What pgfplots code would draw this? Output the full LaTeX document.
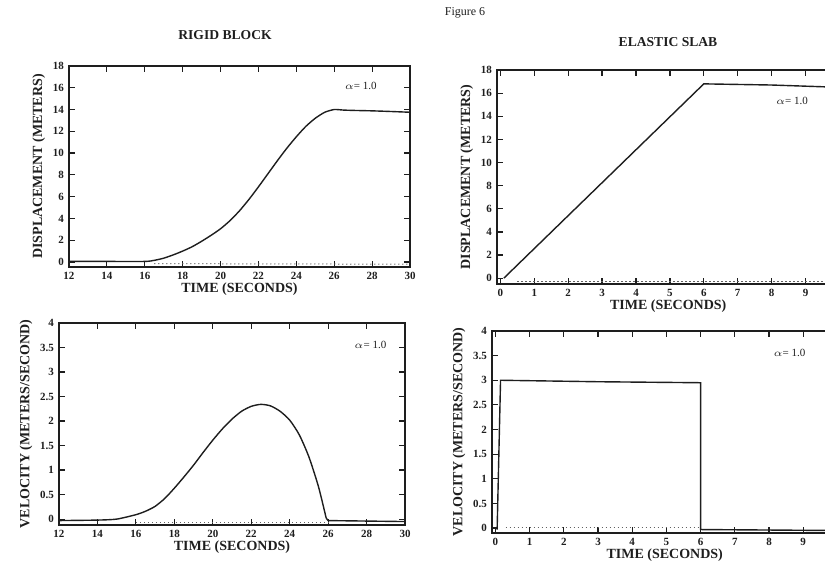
\documentclass[border=0pt]{standalone}
\usepackage{fontspec}
\setmainfont{Liberation Serif}
\usepackage{pgfplots}
\pgfplotsset{compat=1.18}
\definecolor{ink}{RGB}{30,30,30}
\pgfplotsset{
  panel/.style={
    scale only axis,
    axis line style={ink, line width=0.8pt},
    tick style={ink, line width=0.6pt},
    major tick length=3pt,
    tick align=inside,
    minor tick num=0,
    ticklabel style={font=\fontsize{5.5}{6}\selectfont\bfseries, text=ink},
    label style={font=\fontsize{7}{8}\selectfont\bfseries, text=ink},
    /pgf/number format/assume math mode=true,
    xticklabel style={yshift=1pt},
    yticklabel style={xshift=1pt},
    xlabel style={yshift=5pt},
    ylabel style={yshift=-3pt},
  },
  curve/.style={ink, line width=0.7pt, no marks, smooth, tension=0.4},
  dots/.style={ink!70, line width=0.5pt, dash pattern=on 0.6pt off 1.4pt, no marks},
}
\begin{document}
\begin{tikzpicture}
\useasboundingbox (0,0) rectangle (412.5pt,282.5pt);
\node[font=\fontsize{6}{7}\selectfont, text=ink] at (232.5pt,276pt) {Figure 6};
\node[font=\fontsize{6.8}{7}\selectfont\bfseries, text=ink] at (112.5pt,265pt) {RIGID BLOCK};
\node[font=\fontsize{6.8}{7}\selectfont\bfseries, text=ink] at (334pt,261.5pt) {ELASTIC SLAB};

% top-left
\begin{axis}[panel, at={(34.5pt,149pt)}, anchor=south west,
  width=170.5pt, height=100.5pt,
  xmin=12, xmax=30, ymin=-0.46, ymax=18,
  xtick={12,14,...,30}, ytick={0,2,...,18},
  xlabel={TIME (SECONDS)}, ylabel={DISPLACEMENT (METERS)}]
\addplot[curve] coordinates {(12,0.05)(14,0.05)(16,0.05)(16.5,0.15)(17,0.35)(17.5,0.65)(18,1.0)(18.5,1.4)(19,1.9)(19.5,2.45)(20,3.05)(20.5,3.8)(21,4.7)(21.5,5.75)(22,6.9)(22.5,8.1)(23,9.3)(23.5,10.45)(24,11.5)(24.5,12.45)(25,13.2)(25.5,13.75)(26,14.0)(26.5,13.95)(27,13.92)(28,13.88)(29,13.82)(30,13.75)};
\addplot[dots] coordinates {(16.5,-0.15)(30,-0.2)};
\node[font=\fontsize{5.5}{6}\selectfont, text=ink] at (axis cs:27.4,16.2) {$\alpha$= 1.0};
\end{axis}

% top-right
\begin{axis}[panel, at={(248.5pt,140.5pt)}, anchor=south west,
  width=171.2pt, height=107pt,
  xmin=-0.1, xmax=10, ymin=-0.5, ymax=18,
  xtick={0,1,...,9}, ytick={0,2,...,18},
  xlabel={TIME (SECONDS)}, ylabel={DISPLACEMENT (METERS)}]
\addplot[ink, line width=0.7pt, no marks] coordinates {(0.1,0)(6,16.8)(7,16.75)(8,16.7)(9,16.6)(10,16.5)};
\addplot[dots] coordinates {(0.5,-0.3)(10,-0.3)};
\node[font=\fontsize{5.5}{6}\selectfont, text=ink] at (axis cs:8.6,15.3) {$\alpha$= 1.0};
\end{axis}

% bottom-left
\begin{axis}[panel, at={(29.5pt,20pt)}, anchor=south west,
  width=173pt, height=101pt,
  xmin=12, xmax=30, ymin=-0.12, ymax=4,
  xtick={12,14,...,30}, ytick={0,0.5,...,4},
  xlabel={TIME (SECONDS)}, ylabel={VELOCITY (METERS/SECOND)}]
\addplot[curve] coordinates {(12,-0.03)(14,-0.02)(15,0.0)(16,0.09)(16.5,0.16)(17,0.26)(17.5,0.42)(18,0.63)(18.5,0.86)(19,1.1)(19.5,1.36)(20,1.61)(20.5,1.84)(21,2.04)(21.5,2.2)(22,2.3)(22.5,2.34)(23,2.31)(23.5,2.2)(24,2.02)(24.5,1.72)(25,1.27)(25.5,0.66)(25.9,0.02)};
\addplot[ink, line width=0.7pt, no marks] coordinates {(25.9,0.02)(26,-0.03)(28,-0.04)(30,-0.05)};
\addplot[dots] coordinates {(16,-0.06)(26,-0.06)};
\node[font=\fontsize{5.5}{6}\selectfont, text=ink] at (axis cs:28.2,3.55) {$\alpha$= 1.0};
\end{axis}

% bottom-right
\begin{axis}[panel, at={(246pt,16pt)}, anchor=south west,
  width=172.7pt, height=101pt,
  xmin=-0.1, xmax=10, ymin=-0.1, ymax=4,
  xtick={0,1,...,9}, ytick={0,0.5,...,4},
  xlabel={TIME (SECONDS)}, ylabel={VELOCITY (METERS/SECOND)}]
\addplot[ink, line width=0.7pt, no marks] coordinates {(0.05,-0.03)(0.15,3.0)(3,2.97)(6,2.95)(6,-0.03)(8,-0.04)(10,-0.05)};
\addplot[dots] coordinates {(0.3,0.02)(6,0.02)};
\node[font=\fontsize{5.5}{6}\selectfont, text=ink] at (axis cs:8.6,3.55) {$\alpha$= 1.0};
\end{axis}
\end{tikzpicture}
\end{document}
